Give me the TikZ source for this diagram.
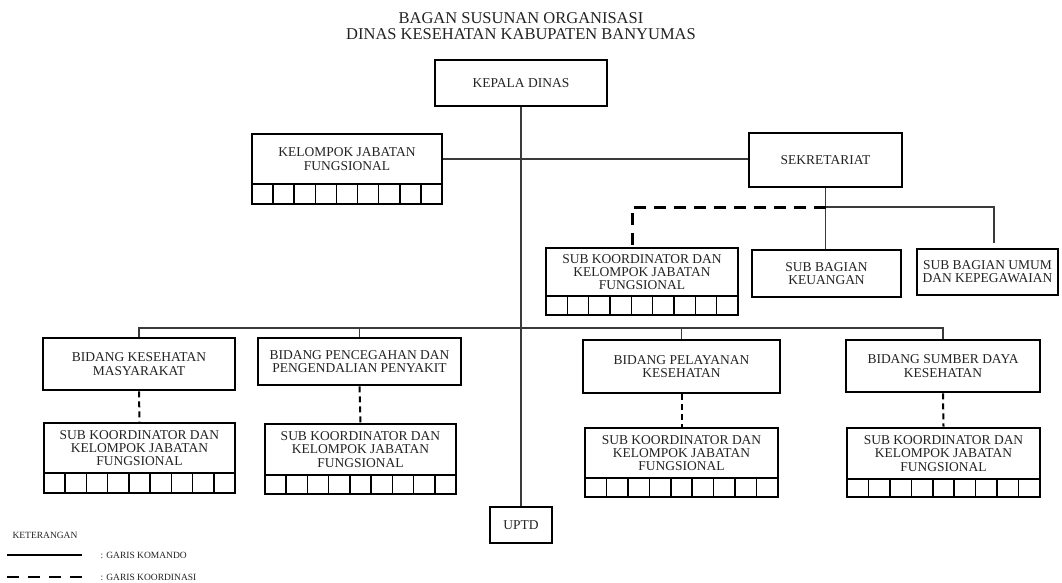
\documentclass[tikz,border=0pt]{standalone}
\usepackage{fontspec}
\setmainfont{Liberation Serif}
\usepackage{tikz}
\usetikzlibrary{positioning}
\usepackage{xcolor}
\definecolor{tinta}{HTML}{222222}
\definecolor{garisabu}{HTML}{3A3A3A}

% deret 9 kotak kecil di bawah kotak jabatan fungsional: {kiri}{kanan}{atas}{bawah}
\newcommand{\deretsel}[4]{%
  \foreach \i in {0,...,8}
    \draw[sel] ({#1+\i*(#2-#1)/9},#3) rectangle ({#1+(\i+1)*(#2-#1)/9},#4);}

\begin{document}
\begin{tikzpicture}[x=1pt,y=-1pt,
    kotak/.style={draw=black,line width=2.6pt,align=center,inner sep=0pt,text=tinta,font=\fontsize{13.5}{13.2}\selectfont},
    garis/.style={draw=garisabu,line width=1.2pt},
    koord/.style={draw=black,line width=2pt,dash pattern=on 6pt off 4pt},
    koordtebal/.style={draw=black,line width=3pt,dash pattern=on 12pt off 8pt},
    sel/.style={draw=black,line width=1.5pt},
    ket/.style={anchor=west,text=tinta,font=\fontsize{9.5}{10}\selectfont}]
                \useasboundingbox (0,0) rectangle (1062,582);
                \node[align=center,text=tinta,font=\fontsize{16.5}{16}\selectfont] (judul) at (521,26) {BAGAN SUSUNAN ORGANISASI\\DINAS KESEHATAN KABUPATEN BANYUMAS};

                \node[kotak,minimum width=172pt,minimum height=46pt] (kadis) at (521,83) {KEPALA DINAS};
                \node[kotak,minimum width=190pt,minimum height=50pt] (kjf) at (347,159) {KELOMPOK JABATAN\\FUNGSIONAL};
                \node[kotak,minimum width=153pt,minimum height=54pt] (sekre) at (825.5,160) {SEKRETARIAT};
                \node[kotak,minimum width=192pt,minimum height=48pt] (subsek) at (642,272) {SUB KOORDINATOR DAN\\KELOMPOK JABATAN\\FUNGSIONAL};
                \node[kotak,minimum width=149pt,minimum height=47pt] (keu) at (826.5,273.5) {SUB BAGIAN\\KEUANGAN};
                \node[kotak,minimum width=141pt,minimum height=46pt] (umum) at (987.5,272) {SUB BAGIAN UMUM\\DAN KEPEGAWAIAN};

                \node[kotak,minimum width=192pt,minimum height=52pt] (kesmas) at (139,364) {BIDANG KESEHATAN\\MASYARAKAT};
                \node[kotak,minimum width=203pt,minimum height=47pt] (ptm) at (359.5,361.5) {BIDANG PENCEGAHAN DAN\\PENGENDALIAN PENYAKIT};
                \node[kotak,minimum width=197pt,minimum height=53pt] (yankes) at (681.5,366.5) {BIDANG PELAYANAN\\KESEHATAN};
                \node[kotak,minimum width=194pt,minimum height=52pt] (sdk) at (943,366) {BIDANG SUMBER DAYA\\KESEHATAN};

                \node[kotak,minimum width=191pt,minimum height=50pt] (subkesmas) at (139.5,448) {SUB KOORDINATOR DAN\\KELOMPOK JABATAN\\FUNGSIONAL};
                \node[kotak,minimum width=191pt,minimum height=51pt] (subptm) at (360.5,449.5) {SUB KOORDINATOR DAN\\KELOMPOK JABATAN\\FUNGSIONAL};
                \node[kotak,minimum width=193pt,minimum height=50pt] (subyankes) at (681.5,453) {SUB KOORDINATOR DAN\\KELOMPOK JABATAN\\FUNGSIONAL};
                \node[kotak,minimum width=193pt,minimum height=51pt] (subsdk) at (943.5,453.5) {SUB KOORDINATOR DAN\\KELOMPOK JABATAN\\FUNGSIONAL};
                \node[kotak,minimum width=62pt,minimum height=36pt] (uptd) at (521,525) {UPTD};

                \deretsel{252}{442}{184}{204}
                \deretsel{546}{738}{296}{315}
                \deretsel{44}{235}{473}{493}
                \deretsel{265}{456}{475}{494}
                \deretsel{585}{778}{478}{497}
                \deretsel{847}{1040}{479}{497}

                % garis komando
                \coordinate (bagi) at (521,328);
                \coordinate (cabang) at (826,207);
                \coordinate (umumatas) at (994,249);
                \coordinate (sudut) at (632,207);
                \draw[garis] (kadis.south) -- (uptd.north);
                \draw[garis] (kjf.east) -- (kjf.east -| sekre.west);
                \draw[garis] (kesmas.north) -- (kesmas.north |- bagi) -| (sdk.north);
                \draw[garis] (ptm.north |- bagi) -- (ptm.north);
                \draw[garis] (yankes.north |- bagi) -- (yankes.north);
                \draw[garis] (sekre.south) -- (sekre.south |- keu.north);
                \draw[garis,shorten >=6pt] (cabang) -| (umumatas);

                % garis koordinasi
                \draw[koordtebal] (cabang) -- (sudut) -- (sudut |- subsek.north);
                \draw[koord] (kesmas.south) -- (subkesmas.north);
                \draw[koord] (ptm.south) -- (subptm.north);
                \draw[koord] (yankes.south) -- (subyankes.north);
                \draw[koord] (sdk.south) -- (subsdk.north);

                % keterangan
                \node[ket] (keterangan) at (9,535) {KETERANGAN};
                \coordinate (komandoa) at (7,555);
                \coordinate (komandob) at (82,555);
                \coordinate (koorda) at (7,577);
                \coordinate (koordb) at (82,577);
                \draw[black,line width=2.2pt] (komandoa) -- (komandob);
                \draw[black,line width=2.5pt,dash pattern=on 12pt off 9pt] (koorda) -- (koordb);
                \node[ket] (komando) at (97,555) {: GARIS KOMANDO};
                \node[ket] (koordinasi) at (97,577) {: GARIS KOORDINASI};
            \end{tikzpicture}
\end{document}
